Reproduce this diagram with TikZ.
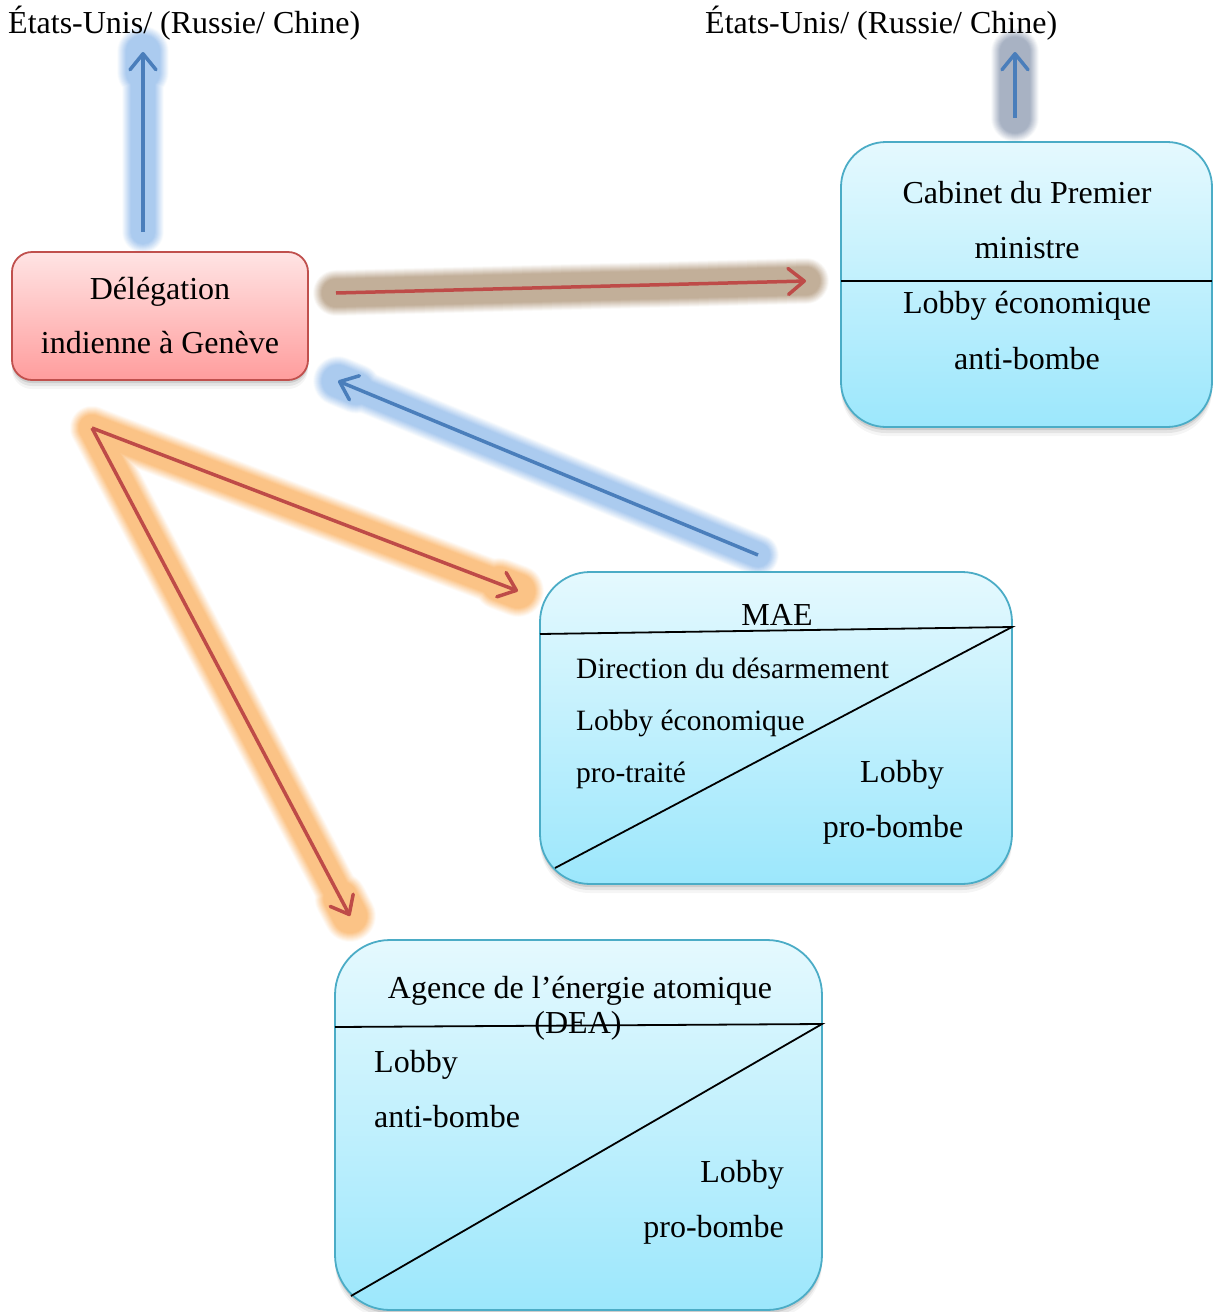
\documentclass[tikz,border=0pt]{standalone}
\usepackage{fontspec}
\setmainfont{Liberation Serif}
\usetikzlibrary{arrows.meta,calc}
\definecolor{arrBlue}{HTML}{4A7EBB}
\definecolor{arrRed}{HTML}{BE4B48}
\definecolor{glowBlue}{HTML}{A4C6EE}
\definecolor{glowGrey}{HTML}{A0ABBE}
\definecolor{glowBrown}{HTML}{BDA890}
\definecolor{glowOrange}{HTML}{FBBE7C}
\definecolor{pinkTop}{HTML}{FFE4E4}
\definecolor{pinkBot}{HTML}{FF9D9D}
\definecolor{pinkLine}{HTML}{C0504D}
\definecolor{cyanTop}{HTML}{E5F9FE}
\definecolor{cyanBot}{HTML}{9CE7FC}
\definecolor{cyanLine}{HTML}{4BACC6}
% soft glow: layered strokes from wide/faint to narrow/stronger colour
\newcommand\glowlayers[2]{%
  \foreach \k in {0,...,9}{%
    \pgfmathsetmacro\gs{2*\k}%
    \pgfmathtruncatemacro\cc{min(92,6+10*\k)}%
    \colorlet{gc}{#1!\cc!white}%
    #2
  }}
\begin{document}
\begin{tikzpicture}[x=1pt,y=-1pt,
  gl/.style={line width={(#1-\gs)*1pt}, line cap=round, draw=gc},
  shadowed/.style={
    preaction={fill=black, opacity=.10, transform canvas={yshift=-3pt}},
    preaction={fill=black, opacity=.07, transform canvas={yshift=-6pt}},
    preaction={fill=black, opacity=.04, transform canvas={yshift=-9pt}}},
  pinkbox/.style={shadowed, draw=pinkLine, line width=1.8pt, top color=pinkTop, bottom color=pinkBot, inner sep=0pt},
  cyanbox/.style={shadowed, draw=cyanLine, line width=1.8pt, top color=cyanTop, bottom color=cyanBot, inner sep=0pt},
  divider/.style={draw=black, line width=1.8pt},
  txt/.style={font=\fontsize{32}{38}\selectfont, inner sep=0pt, anchor=base},
  smalltxt/.style={font=\fontsize{29.5}{36}\selectfont, inner sep=0pt, anchor=base west},
  link/.style={line width=3.5pt, -{Straight Barb[round,length=16pt,width=26pt]}}
  ]
\useasboundingbox (0,0) rectangle (1221,1312);

% arrow end points
\coordinate (a1s) at (143,232);  \coordinate (a1e) at (143,52);
\coordinate (a2s) at (1015,118); \coordinate (a2e) at (1015,52);
\coordinate (a3s) at (336,293);  \coordinate (a3e) at (806,281);
\coordinate (a4s) at (758,555);  \coordinate (a4e) at (338,381);
\coordinate (a5s) at (92,428);   \coordinate (a5e) at (518,591);
\coordinate (a6e) at (350,916);

% glows
\glowlayers{glowBlue}{%
  \draw[gl=42] (a1s) -- (a1e);
  \draw[gl=52] (a1e) -- ($(a1e)!20pt!(a1s)$);}
\glowlayers{glowGrey}{%
  \draw[gl=48] (a2s) -- (a2e);}
\glowlayers{glowBrown}{%
  \draw[gl=46] (a3s) -- (a3e);}
\glowlayers{glowBlue}{%
  \draw[gl=42] (a4s) -- (a4e);
  \draw[gl=50] (a4e) -- ($(a4e)!20pt!(a4s)$);}
\glowlayers{glowOrange}{%
  \draw[gl=44] (a5s) -- (a5e);
  \draw[gl=52] (a5e) -- ($(a5e)!20pt!(a5s)$);
  \draw[gl=44] (a5s) -- (a6e);
  \draw[gl=52] (a6e) -- ($(a6e)!20pt!(a5s)$);}

% boxes
\node[pinkbox, rounded corners=20pt, minimum width=296pt, minimum height=128pt] (del) at (160,316) {};
\node[cyanbox, rounded corners=45pt, minimum width=371pt, minimum height=285pt] (cab) at (1026.5,284.5) {};
\node[cyanbox, rounded corners=50pt, minimum width=472pt, minimum height=312pt] (mae) at (776,728) {};
\node[cyanbox, rounded corners=55pt, minimum width=487pt, minimum height=370pt] (dea) at (578.5,1125) {};

% dividers
\coordinate (cabL) at (841,281);  \coordinate (cabR) at (1212,281);
\coordinate (maeL) at (540,634);  \coordinate (maeR) at (1012,627);
\coordinate (maeD) at (555,868);
\coordinate (deaL) at (335,1027); \coordinate (deaR) at (822,1024);
\coordinate (deaD) at (351,1296);
\draw[divider] (cabL) -- (cabR);
\draw[divider] (maeL) -- (maeR) -- (maeD);
\draw[divider] (deaL) -- (deaR) -- (deaD);

% texts
\node[txt, anchor=base west] (us1) at (8,33) {États-Unis/ (Russie/ Chine)};
\node[txt, anchor=base west] (us2) at (705,33) {États-Unis/ (Russie/ Chine)};

\node[txt] (del1) at (160,299) {Délégation};
\node[txt] (del2) at (160,353) {indienne à Genève};

\node[txt] (cab1) at (1027,203) {Cabinet du Premier};
\node[txt] (cab2) at (1027,258) {ministre};
\node[txt] (cab3) at (1027,313) {Lobby économique};
\node[txt] (cab4) at (1027,369) {anti-bombe};

\node[txt] (mae0) at (777,625) {MAE};
\node[smalltxt] (mae1) at (576,678) {Direction du désarmement};
\node[smalltxt] (mae2) at (576,730) {Lobby économique};
\node[smalltxt] (mae3) at (576,782) {pro-traité};
\node[txt] (mae4) at (902,782) {Lobby};
\node[txt] (mae5) at (893,837) {pro-bombe};

\node[txt] (dea0) at (580,998) {Agence de l’énergie atomique};
\node[txt] (dea1) at (578,1033) {(DEA)};
\node[txt, anchor=base west] (dea2) at (374,1072) {Lobby};
\node[txt, anchor=base west] (dea3) at (374,1127) {anti-bombe};
\node[txt, anchor=base east] (dea4) at (784,1182) {Lobby};
\node[txt, anchor=base east] (dea5) at (784,1237) {pro-bombe};

% connectors
\draw[link, arrBlue] (a1s) -- (a1e);
\draw[link, arrBlue] (a2s) -- (a2e);
\draw[link, arrRed] (a3s) -- (a3e);
\draw[link, arrBlue] (a4s) -- (a4e);
\draw[link, arrRed] (a5s) -- (a5e);
\draw[link, arrRed] (a5s) -- (a6e);
\end{tikzpicture}
\end{document}
